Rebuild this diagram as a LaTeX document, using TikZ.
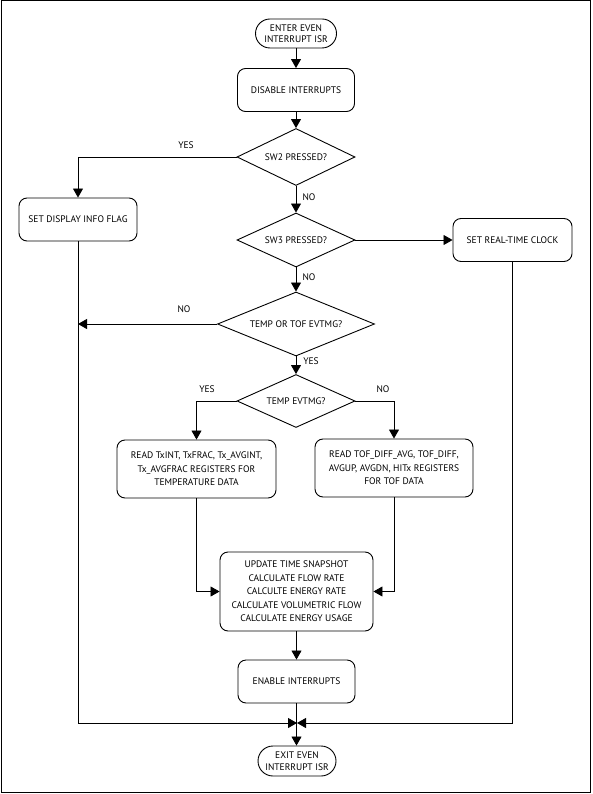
\documentclass[tikz,border=0pt]{standalone}
\usepackage{fontspec}
\setmainfont{PT Sans}
\usetikzlibrary{arrows.meta,shapes.geometric,shapes.misc}
\begin{document}
\begin{tikzpicture}[x=1pt,y=-1pt,
  font=\fontsize{9.5}{13.5}\selectfont,
  box/.style={draw, rounded corners=8pt, line width=0.9pt, align=center, inner sep=2pt},
  term/.style={draw, rounded rectangle, line width=0.9pt, align=center, inner sep=1pt, font=\fontsize{9.5}{11.5}\selectfont},
  dec/.style={draw, diamond, aspect=2, inner sep=0pt, line width=0.9pt, align=center},
  conn/.style={line width=0.8pt},
  arr/.style={line width=0.8pt, -{Triangle[length=9pt,width=10pt]}},
  lbl/.style={inner sep=1pt}]
\useasboundingbox (0,0) rectangle (592,794);
\draw[line width=1pt] (1,1) rectangle (590,792);

\node[term, minimum width=83pt, minimum height=29pt] (start) at (296,33.5) {ENTER EVEN\\INTERRUPT ISR};
\node[box, minimum width=117pt, minimum height=43pt] (dis) at (296,90) {DISABLE INTERRUPTS};
\node[dec, minimum width=118pt, minimum height=57pt] (sw2) at (296,157) {SW2 PRESSED?};
\node[box, minimum width=118pt, minimum height=43pt] (disp) at (78,219.5) {SET DISPLAY INFO FLAG};
\node[dec, minimum width=118pt, minimum height=54pt] (sw3) at (296,240) {SW3 PRESSED?};
\node[box, minimum width=119pt, minimum height=43pt] (rtc) at (512.5,240) {SET REAL-TIME CLOCK};
\node[dec, minimum width=157pt, minimum height=64pt] (tof) at (296,324) {TEMP OR TOF EVTMG?};
\node[dec, minimum width=118pt, minimum height=53pt] (temp) at (296,401) {TEMP EVTMG?};
\node[box, minimum width=159pt, minimum height=58pt] (lbox) at (196.5,469) {READ TxINT, TxFRAC, Tx\_AVGINT,\\Tx\_AVGFRAC REGISTERS FOR\\TEMPERATURE DATA};
\node[box, minimum width=158pt, minimum height=58pt] (rbox) at (394,468) {READ TOF\_DIFF\_AVG, TOF\_DIFF,\\AVGUP, AVGDN, HITx REGISTERS\\FOR TOF DATA};
\node[box, minimum width=153pt, minimum height=79pt] (upd) at (296.5,591.5) {UPDATE TIME SNAPSHOT\\CALCULATE FLOW RATE\\CALCULTE ENERGY RATE\\CALCULATE VOLUMETRIC FLOW\\CALCULATE ENERGY USAGE};
\node[box, minimum width=117pt, minimum height=43pt] (en) at (296.5,681.5) {ENABLE INTERRUPTS};
\node[term, minimum width=80pt, minimum height=30pt] (exit) at (297,761) {EXIT EVEN\\INTERRUPT ISR};
\coordinate (junc) at (297,723);

\draw[arr] (start.south) -- (start.south |- dis.north);
\draw[arr] (dis.south) -- (dis.south |- sw2.north);
\draw[arr] (sw2.west) -| (disp.north);
\draw[arr] (sw2.south) -- (sw2.south |- sw3.north);
\draw[arr] (sw3.east) -- (sw3.east -| rtc.west);
\draw[arr] (sw3.south) -- (sw3.south |- tof.north);
\draw[arr] (tof.west) -- (tof.west -| disp.south);
\draw[arr] (tof.south) -- (tof.south |- temp.north);
\draw[arr] (temp.west) -| (lbox.north);
\draw[arr] (temp.east) -| (rbox.north);
\draw[arr] (lbox.south) |- (upd.west);
\draw[arr] (rbox.south) |- (upd.east);
\draw[arr] (upd.south) -- (upd.south |- en.north);
\draw[arr] (en.south) -- (en.south |- exit.north);
\draw[arr] (disp.south) |- (junc);
\draw[arr] (rtc.south) |- (junc);

\node[lbl] (y1) at (186,145) {YES};
\node[lbl] (n1) at (309,197) {NO};
\node[lbl] (n2) at (309,277) {NO};
\node[lbl] (n3) at (184,309) {NO};
\node[lbl] (y2) at (311,361) {YES};
\node[lbl] (y3) at (207,389) {YES};
\node[lbl] (n4) at (383,389) {NO};
\end{tikzpicture}
\end{document}
